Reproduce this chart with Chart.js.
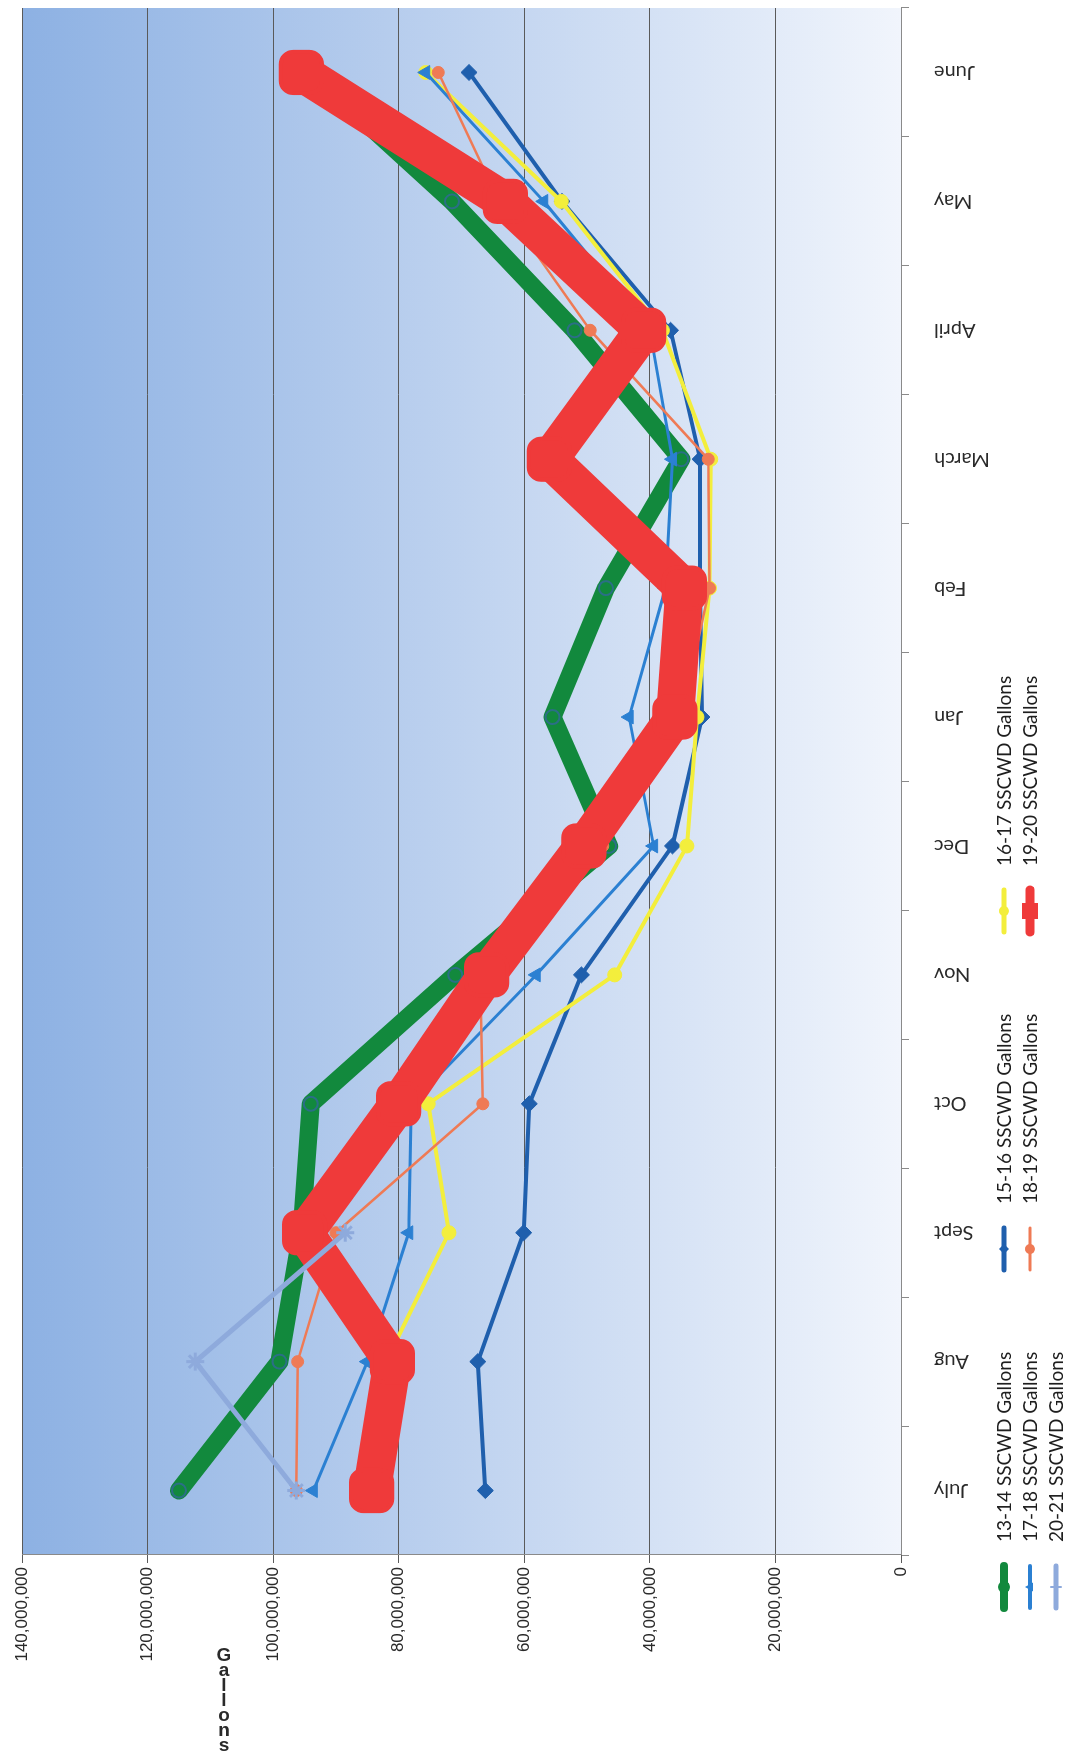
<!DOCTYPE html>
<html>
<head>
<meta charset="utf-8">
<script src="https://cdn.jsdelivr.net/npm/chart.js@4.4.1/dist/chart.umd.min.js"></script>
<style>
  html, body { margin: 0; padding: 0; background: #ffffff; width: 1068px; height: 1758px; overflow: hidden; }
  /* the chart is laid out landscape and turned a quarter turn counter-clockwise */
  #frame { position: absolute; left: 0; top: 0; width: 1758px; height: 1068px;
           transform-origin: 0 0; transform: translate(0, 1758px) rotate(-90deg); }
  canvas { display: block; }
</style>
</head>
<body>
<div id="frame"><canvas id="usage" width="1758" height="1068"></canvas></div>
<script>
// Monthly SSCWD water use, fiscal years July..June
const months = ['July', 'Aug', 'Sept', 'Oct', 'Nov', 'Dec', 'Jan', 'Feb', 'March', 'April', 'May', 'June'];

const seriesNames = ['13-14 SSCWD Gallons', '15-16 SSCWD Gallons', '16-17 SSCWD Gallons',
                     '17-18 SSCWD Gallons', '18-19 SSCWD Gallons', '19-20 SSCWD Gallons',
                     '20-21 SSCWD Gallons'];

const gallons1314 = [115000000, 99000000, 95500000, 94000000, 71000000, 46500000, 55500000, 47000000, 35000000, 52000000, 71500000, 94000000];
const gallons1516 = [66200000, 67400000, 60100000, 59200000, 50900000, 36400000, 31700000, 32000000, 32000000, 36700000, 54000000, 68800000];
const gallons1617 = [84000000, 82000000, 72000000, 75300000, 45600000, 34100000, 32500000, 30500000, 30300000, 38000000, 54100000, 75700000];
const gallons1718 = [93600000, 85000000, 78400000, 78000000, 58100000, 39400000, 43300000, 37500000, 36400000, 40000000, 56900000, 75700000];
const gallons1819 = [96300000, 96100000, 90000000, 66600000, 67000000, 47500000, 35000000, 30500000, 30700000, 49500000, 64000000, 73700000];
const gallons1920 = [84300000, 81000000, 95000000, 80000000, 66000000, 50500000, 36000000, 34500000, 56000000, 41000000, 63000000, 95500000];
const gallons2021 = [96300000, 112400000, 88500000, null, null, null, null, null, null, null, null, null];

const valueTicks = [0, 20000000, 40000000, 60000000, 80000000, 100000000, 120000000, 140000000];
const axisTitle = 'Gallons';

// line look for each season
const looks = [
  { color: '#12893d', width: 18, point: 'circle',      radius: 7,  pointBorder: '#2b6f86', pointBorderWidth: 2, keyWidth: 8 },
  { color: '#1f5fad', width: 4,  point: 'rectRot',     radius: 8,  pointBorder: '#1f5fad', pointBorderWidth: 1, keyWidth: 5 },
  { color: '#f3ee3c', width: 4,  point: 'circle',      radius: 7,  pointBorder: '#f3ee3c', pointBorderWidth: 1, keyWidth: 5 },
  { color: '#2b80d2', width: 3,  point: 'triangle',    radius: 8,  pointBorder: '#2b80d2', pointBorderWidth: 1, keyWidth: 4 },
  { color: '#ef7a55', width: 2.5,point: 'circle',      radius: 6,  pointBorder: '#ef7a55', pointBorderWidth: 1, keyWidth: 3 },
  { color: '#ef3a3a', width: 38, point: 'rectRounded', radius: 24, pointBorder: '#ef3a3a', pointBorderWidth: 4, keyWidth: 9 },
  { color: '#8eaadc', width: 5,  point: 'star',        radius: 9,  pointBorder: '#8eaadc', pointBorderWidth: 3, keyWidth: 5 }
];

const seriesValues = [gallons1314, gallons1516, gallons1617, gallons1718, gallons1819, gallons1920, gallons2021];

const datasets = seriesValues.map((vals, i) => ({
  label: seriesNames[i],
  data: vals,
  borderColor: looks[i].color,
  backgroundColor: looks[i].color,
  borderWidth: looks[i].width,
  borderJoinStyle: 'round',
  borderCapStyle: 'round',
  pointStyle: looks[i].point,
  pointRadius: looks[i].radius,
  pointHoverRadius: looks[i].radius,
  pointBackgroundColor: looks[i].color,
  pointBorderColor: looks[i].pointBorder,
  pointBorderWidth: looks[i].pointBorderWidth,
  tension: 0,
  spanGaps: false,
  fill: false,
  clip: false,
  order: seriesValues.length - i   // later seasons are painted over earlier ones
}));

// blue wash behind the plot, darker toward the high values
const plotWash = {
  id: 'plotWash',
  beforeDraw(chart) {
    const { ctx, chartArea: a } = chart;
    const g = ctx.createLinearGradient(0, a.top, 0, a.bottom);
    g.addColorStop(0, '#8db1e3');
    g.addColorStop(0.5, '#bed2ef');
    g.addColorStop(1, '#f1f5fc');
    ctx.save();
    ctx.fillStyle = g;
    ctx.fillRect(a.left, a.top, a.right - a.left, a.bottom - a.top);
    ctx.restore();
  }
};

function markerPath(ctx, style, x, y, r) {
  ctx.beginPath();
  if (style === 'circle') {
    ctx.arc(x, y, r, 0, Math.PI * 2);
  } else if (style === 'rectRot') {
    ctx.moveTo(x, y - r); ctx.lineTo(x + r, y); ctx.lineTo(x, y + r); ctx.lineTo(x - r, y); ctx.closePath();
  } else if (style === 'triangle') {
    ctx.moveTo(x, y - r); ctx.lineTo(x + r * 0.9, y + r * 0.6); ctx.lineTo(x - r * 0.9, y + r * 0.6); ctx.closePath();
  } else if (style === 'rectRounded') {
    ctx.rect(x - r, y - r, 2 * r, 2 * r);
  } else if (style === 'star') {
    ctx.moveTo(x - r, y); ctx.lineTo(x + r, y); ctx.moveTo(x, y - r); ctx.lineTo(x, y + r);
  }
}

// series key in three columns below the month labels
const seriesKey = {
  id: 'seriesKey',
  afterDraw(chart) {
    const { ctx } = chart;
    const rows = [1004, 1030, 1056];
    const startX = 150, colW = 338, lineLen = 42, gap = 24;
    ctx.save();
    ctx.font = '19px Lato';
    ctx.textBaseline = 'middle';
    ctx.textAlign = 'left';
    seriesNames.forEach((name, i) => {
      const look = looks[i];
      const x = startX + (i % 3) * colW;
      const y = rows[Math.floor(i / 3)];
      ctx.strokeStyle = look.color;
      ctx.fillStyle = look.color;
      ctx.lineWidth = look.keyWidth;
      ctx.lineCap = 'round';
      ctx.beginPath(); ctx.moveTo(x, y); ctx.lineTo(x + lineLen, y); ctx.stroke();
      const r = look.point === 'rectRounded' ? 8 : (i === 0 ? 6 : 5);
      markerPath(ctx, look.point, x + lineLen / 2, y, r);
      if (look.point === 'star') { ctx.lineWidth = 2; ctx.stroke(); } else { ctx.fill(); }
      ctx.fillStyle = '#1e1e1e';
      ctx.fillText(name, x + lineLen + gap, y + 1);
    });
    ctx.restore();
  }
};

// vertical axis title, one upright letter under another
const gallonsTitle = {
  id: 'gallonsTitle',
  afterDraw(chart) {
    const { ctx } = chart;
    const letters = axisTitle.split('');
    const baseX = 102, stepX = 15, y = 224;
    ctx.save();
    ctx.font = 'bold 19px "Liberation Sans"';
    ctx.fillStyle = '#2a2a2a';
    ctx.textAlign = 'center';
    ctx.textBaseline = 'middle';
    letters.forEach((ch, k) => {
      ctx.save();
      ctx.translate(baseX - k * stepX, y);
      ctx.rotate(Math.PI / 2);
      ctx.fillText(ch, 0, 0);
      ctx.restore();
    });
    ctx.restore();
  }
};

new Chart(document.getElementById('usage'), {
  type: 'line',
  data: { labels: months, datasets },
  options: {
    responsive: false,
    animation: false,
    devicePixelRatio: 1,
    layout: { autoPadding: false, padding: { top: 22, right: 8, left: 0, bottom: 0 } },
    plugins: { legend: { display: false }, tooltip: { enabled: false } },
    scales: {
      x: {
        type: 'category',
        offset: true,
        grid: { display: true, offset: true, drawOnChartArea: false, drawTicks: true, tickLength: 8, color: '#8a8a8a' },
        border: { display: true, color: '#8a8a8a', width: 1 },
        ticks: { minRotation: 90, maxRotation: 90, padding: 25, color: '#2a2a2a', font: { family: 'Lato', size: 20 } },
        afterFit(scale) { scale.height = 167; scale.paddingLeft = 0; scale.paddingRight = 0; }
      },
      y: {
        min: 0,
        max: 140000000,
        afterBuildTicks(scale) { scale.ticks = valueTicks.map(v => ({ value: v })); },
        grid: { color: '#5a5a5a', lineWidth: 1, drawTicks: true, tickLength: 8 },
        border: { display: true, color: '#8a8a8a', width: 1 },
        ticks: {
          padding: 4,
          color: '#2a2a2a',
          font: { family: 'Liberation Sans', size: 17 },
          callback: v => Number(v).toLocaleString('en-US')
        },
        afterFit(scale) { scale.width = 203; scale.paddingTop = 0; scale.paddingBottom = 0; }
      }
    }
  },
  plugins: [plotWash, seriesKey, gallonsTitle]
});
</script>
</body>
</html>
